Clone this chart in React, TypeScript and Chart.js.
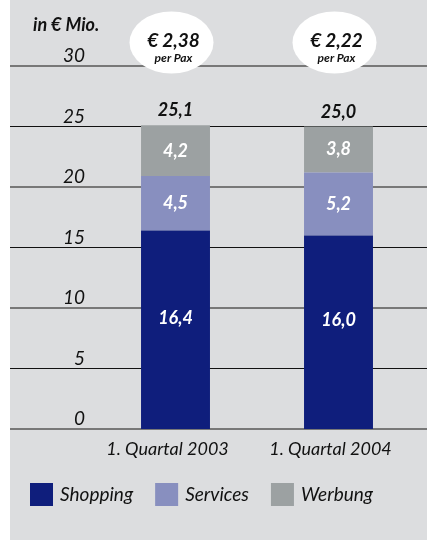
import React, { useEffect, useRef } from "react";
import { Chart, registerables } from "chart.js";

Chart.register(...registerables);

const categories = ["1. Quartal 2003", "1. Quartal 2004"];
const shopping = [16.4, 16.0];
const services = [4.5, 5.2];
const werbung = [4.2, 3.8];
const totals = [25.1, 25.0];
const perPax = ["€ 2,38", "€ 2,22"];
const yTicks = [0, 5, 10, 15, 20, 25, 30];
const unitLabel = "in € Mio.";
const perPaxLabel = "per Pax";

const COLORS = ["#0f1e7c", "#888fbf", "#9ca1a2"];
const BG = "#dcdddf";
const FONT = "Lato, 'Noto Sans', sans-serif";

const fmt = (v: number) => v.toFixed(1).replace(".", ",");

const customPlugin = {
  id: "custom",
  beforeDraw(chart: any) {
    const ctx = chart.ctx;
    ctx.save();
    ctx.fillStyle = "#ffffff";
    ctx.fillRect(0, 0, chart.width, chart.height);
    ctx.fillStyle = BG;
    ctx.fillRect(10, 0, chart.width - 10, chart.height);
    ctx.restore();
  },
  beforeDatasetsDraw(chart: any) {
    const ctx = chart.ctx;
    const y = chart.scales.y;
    ctx.save();
    yTicks.forEach((v, i) => {
      const py = y.getPixelForValue(v);
      ctx.beginPath();
      if (i % 2 === 0) {
        ctx.strokeStyle = "#787878";
        ctx.lineWidth = 2;
      } else {
        ctx.strokeStyle = "#111111";
        ctx.lineWidth = 1;
      }
      ctx.moveTo(10, py);
      ctx.lineTo(chart.width, py);
      ctx.stroke();
      ctx.fillStyle = "#111111";
      ctx.font = `italic 19px ${FONT}`;
      ctx.textAlign = "right";
      ctx.textBaseline = "alphabetic";
      ctx.fillText(String(v), 85, py - 4);
    });
    ctx.font = `italic bold 18px ${FONT}`;
    ctx.textAlign = "left";
    ctx.fillText(unitLabel, 33, 31);
    ctx.restore();
  },
  afterDatasetsDraw(chart: any) {
    const ctx = chart.ctx;
    const yScale = chart.scales.y;
    const xScale = chart.scales.x;
    ctx.save();
    // segment labels
    chart.data.datasets.forEach((ds: any, di: number) => {
      const meta = chart.getDatasetMeta(di);
      meta.data.forEach((bar: any, i: number) => {
        const cy = (bar.y + bar.base) / 2 + (di === 0 ? -12 : 0);
        ctx.fillStyle = "#ffffff";
        ctx.font = `italic bold 18px ${FONT}`;
        ctx.textAlign = "center";
        ctx.textBaseline = "middle";
        ctx.fillText(fmt(ds.data[i]), bar.x, cy);
      });
    });
    categories.forEach((c, i) => {
      const cx = xScale.getPixelForValue(i);
      // total
      ctx.fillStyle = "#111111";
      ctx.font = `italic bold 18px ${FONT}`;
      ctx.textAlign = "center";
      ctx.textBaseline = "alphabetic";
      ctx.fillText(fmt(totals[i]), cx, yScale.getPixelForValue(totals[i]) - 9);
      // bubble
      const ex = cx - 4;
      ctx.beginPath();
      ctx.fillStyle = "#ffffff";
      ctx.ellipse(ex, 42.5, 42, 31, 0, 0, Math.PI * 2);
      ctx.fill();
      ctx.fillStyle = "#111111";
      ctx.font = `italic bold 19px ${FONT}`;
      ctx.fillText(perPax[i], ex + 2, 47);
      ctx.font = `italic bold 12px ${FONT}`;
      ctx.fillText(perPaxLabel, ex + 2, 62);
      // category label
      ctx.font = `italic 18px ${FONT}`;
      ctx.fillText(c, cx - 8, 455);
    });
    // legend
    let lx = 30;
    chart.data.datasets.forEach((ds: any) => {
      ctx.fillStyle = ds.backgroundColor;
      ctx.fillRect(lx, 483, 23, 23);
      lx += 30;
      ctx.fillStyle = "#111111";
      ctx.font = `italic 19px ${FONT}`;
      ctx.textAlign = "left";
      ctx.textBaseline = "alphabetic";
      ctx.fillText(ds.label, lx, 501);
      lx += ctx.measureText(ds.label).width + 22;
    });
    ctx.restore();
  },
};

export default function App() {
  const ref = useRef<HTMLCanvasElement>(null);
  useEffect(() => {
    if (!ref.current) return;
    const chart = new Chart(ref.current, {
      type: "bar",
      data: {
        labels: categories,
        datasets: [
          { label: "Shopping", data: shopping, backgroundColor: COLORS[0] },
          { label: "Services", data: services, backgroundColor: COLORS[1] },
          { label: "Werbung", data: werbung, backgroundColor: COLORS[2] },
        ],
      },
      options: {
        responsive: false,
        animation: false,
        layout: { padding: { left: 94, right: 7, top: 66, bottom: 111 } },
        datasets: { bar: { categoryPercentage: 1, barPercentage: 0.423 } },
        scales: {
          x: { stacked: true, display: false, offset: true },
          y: { stacked: true, display: false, min: 0, max: 30 },
        },
        plugins: { legend: { display: false }, tooltip: { enabled: false } },
      },
      plugins: [customPlugin],
    });
    return () => chart.destroy();
  }, []);
  return (
    <div style={{ position: "absolute", left: 0, top: 0 }}>
      <canvas ref={ref} width={427} height={540} style={{ display: "block" }} />
    </div>
  );
}
